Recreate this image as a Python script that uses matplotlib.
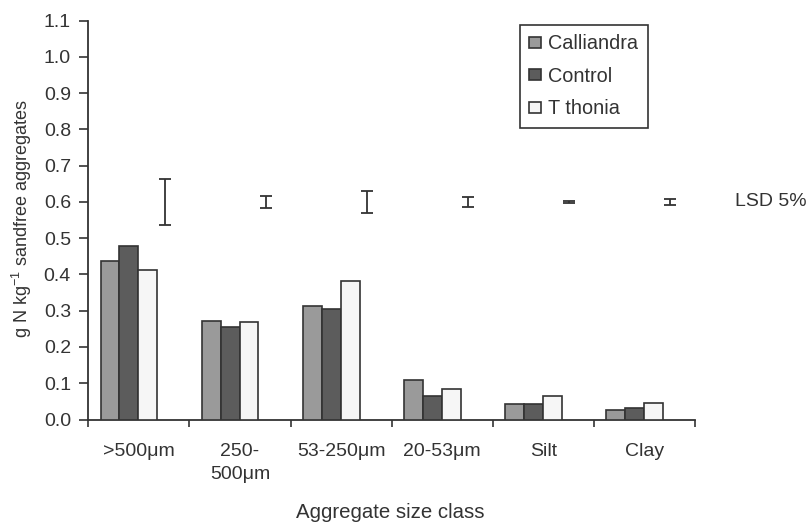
import matplotlib
matplotlib.use("Agg")
import matplotlib.pyplot as plt
import numpy as np

plt.rcParams['font.family'] = ['Liberation Sans', 'DejaVu Sans']
plt.rcParams['mathtext.fontset'] = 'custom'
plt.rcParams['mathtext.rm'] = 'Liberation Sans'
plt.rcParams['mathtext.it'] = 'Liberation Sans:italic'
plt.rcParams['mathtext.bf'] = 'Liberation Sans:bold'

categories = [">500μm", "250-\n500μm", "53-250μm", "20-53μm", "Silt", "Clay"]
series_names = ["Calliandra", "Control", "T thonia"]
calliandra = [0.437, 0.273, 0.314, 0.110, 0.044, 0.026]
control = [0.478, 0.254, 0.305, 0.064, 0.044, 0.031]
tithonia = [0.412, 0.268, 0.382, 0.083, 0.064, 0.046]
lsd_center = [0.6, 0.6, 0.6, 0.6, 0.6, 0.6]
lsd_half = [0.064, 0.016, 0.030, 0.014, 0.003, 0.009]
yticks = [0.0, 0.1, 0.2, 0.3, 0.4, 0.5, 0.6, 0.7, 0.8, 0.9, 1.0, 1.1]

colors = ["#9a9a9a", "#5c5c5c", "#f6f6f6"]
edge = "#333333"
txt = "#333333"
fs = 14.0

W, H = 807, 522
fig = plt.figure(figsize=(W / 100, H / 100), dpi=100)
ax = fig.add_axes([88.3 / W, 1 - 419.5 / H, (695 - 88.3) / W, (419.5 - 20.7) / H])

x = np.arange(len(categories))
bw = 0.187
offsets = [-0.285, -0.098, 0.089]
for vals, off, c, name in zip([calliandra, control, tithonia], offsets, colors, series_names):
    ax.bar(x + off, vals, width=bw, color=c, edgecolor=edge, linewidth=1.2, label=name, zorder=3)

ax.errorbar(x + 0.255, lsd_center, yerr=lsd_half, fmt='none', ecolor=edge,
            elinewidth=1.3, capsize=4.3, capthick=1.3, zorder=4)
ax.text(5.897, 0.6, "LSD 5%", ha='left', va='center', fontsize=fs, color=txt, clip_on=False)

ax.set_xlim(-0.5, 5.5)
ax.set_ylim(0, 1.1)
ax.set_yticks(yticks)
ax.set_yticklabels([f"{v:.1f}" for v in yticks])
ax.set_xticks(np.arange(-0.5, 6.0, 1.0))
ax.set_xticklabels([])
ax.set_xticks(x, minor=True)
ax.set_xticklabels(categories, minor=True)
for t in ax.get_xticklabels(minor=True):
    t.set_linespacing(1.45)

ax.tick_params(axis='y', which='major', direction='out', length=6.5, width=1.2,
               color=edge, labelsize=fs, labelcolor=txt, pad=6)
ax.tick_params(axis='x', which='major', direction='out', length=5, width=1.2, color=edge)
ax.tick_params(axis='x', which='minor', length=0, labelsize=fs, labelcolor=txt, pad=17)

for s in ['top', 'right']:
    ax.spines[s].set_visible(False)
for s in ['left', 'bottom']:
    ax.spines[s].set_color(edge)
    ax.spines[s].set_linewidth(1.3)

fig.text(390 / W, 1 - 513 / H, "Aggregate size class", ha='center', va='center',
         fontsize=14.7, color=txt)
fig.text(21.5 / W, 1 - 218.5 / H, "g N kg$^{-1}$ sandfree aggregates", ha='center', va='center',
         rotation=90, fontsize=13.0, color=txt)

leg = ax.legend(loc='upper left', bbox_to_anchor=(520 / W, 1 - 25 / H), bbox_transform=fig.transFigure,
                borderaxespad=0, fontsize=14.3, handlelength=0.6, handleheight=0.5,
                handletextpad=0.35, labelspacing=0.68, borderpad=0.47, fancybox=False,
                framealpha=1, edgecolor=edge)
leg.get_frame().set_linewidth(1.2)
for t in leg.get_texts():
    t.set_color(txt)

fig.savefig("out.png", dpi=100)
